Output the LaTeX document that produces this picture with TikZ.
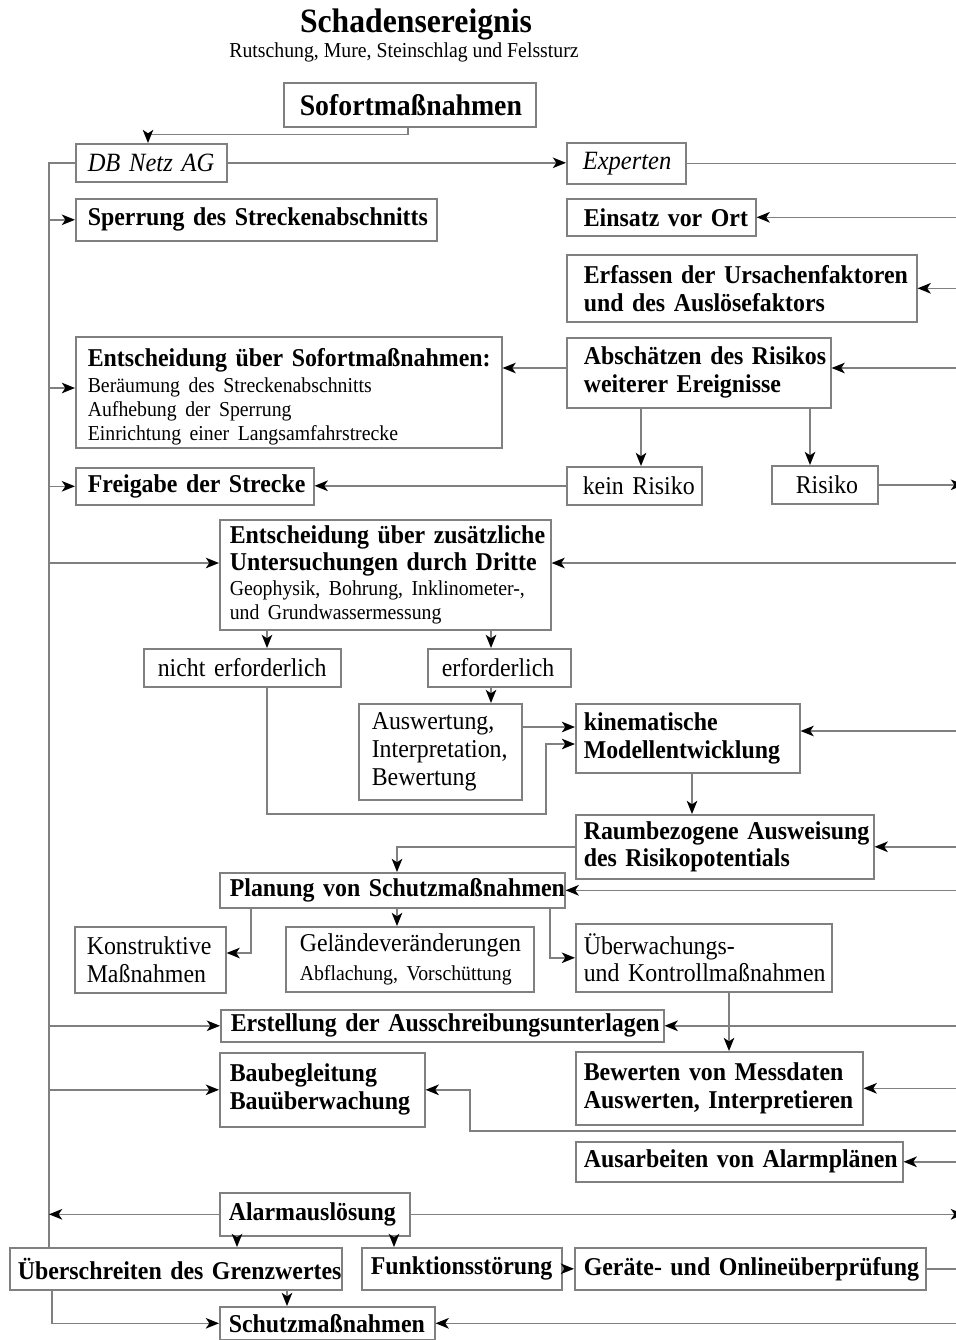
\documentclass[tikz,border=0pt]{standalone}
\usepackage{fontspec}
\setmainfont{Liberation Serif}[FakeStretch=0.93]
\usetikzlibrary{arrows.meta}
\definecolor{lgray}{RGB}{128,128,128}
\newcommand\fmain{\fontsize{14.6}{15.8}\selectfont}
\newcommand\fsmall{\fontsize{12.1}{13.6}\selectfont}

\tikzset{
	conn/.style={draw=lgray, line width=0.9pt},
	conarrow/.style={conn, -{Stealth[length=7.5pt, width=6pt, inset=2pt, color=black]}},
	block/.style n args={3}{conn, anchor=north west, align=left, font=\fmain\bfseries,
		minimum height=#2*0.02cm, text width=(#1-2*#3)*0.02cm, inner xsep=#3*0.02cm, inner ysep=1pt,
		execute at begin node={\rightskip=-2cm plus 1fil}},
	normaltext/.style={font=\fmain},
	italictext/.style={font=\fontsize{15}{17}\selectfont\itshape},
}

\begin{document}
\begin{tikzpicture}[x=0.02cm, y=-0.02cm]
	\useasboundingbox (0,0) rectangle (956,1340);
	\coordinate (redge) at (956,0);
	\coordinate (rout) at (964,0);
	\coordinate (busB) at (49,1247);

	\node[font=\fontsize{19.4}{21}\selectfont\bfseries] (title) at (416,24) {Schadensereignis};
	\node[font=\fsmall] (subtitle) at (404,52) {Rutschung, Mure, Steinschlag und Felssturz};

	\node[block={252}{44}{16}, font=\fontsize{17}{19}\selectfont\bfseries] (sofort) at (283,82) {Sofortmaßnahmen};
	\node[block={151}{38}{12}, italictext] (dbnetz) at (75,143) {DB Netz AG};
	\node[block={119}{41}{16}, italictext] (experten) at (566,142) {Experten};
	\node[block={361}{42}{12}] (sperrung) at (75,198) {Sperrung des Streckenabschnitts};
	\node[block={189}{37}{17}] (einsatz) at (566,198) {Einsatz vor Ort};
	\node[block={350}{67}{17}] (erfassen) at (566,254) {Erfassen der Ursachenfaktoren\\und des Auslösefaktors};
	\node[block={426}{111}{12}] (entsofort) at (75,336) {\rule{0pt}{15.2pt}Entscheidung über Sofortmaßnahmen:\\[1.7pt]\fsmall\mdseries Beräumung des Streckenabschnitts\\Aufhebung der Sperrung\\Einrichtung einer Langsamfahrstrecke\par};
	\node[block={264}{70}{17}] (abschaetzen) at (566,337) {Abschätzen des Risikos\\weiterer Ereignisse};
	\node[block={135}{38}{16}, normaltext] (keinrisiko) at (566,466) {kein Risiko};
	\node[block={106}{38}{24}, normaltext] (risiko) at (771,465) {Risiko};
	\node[block={238}{37}{12}] (freigabe) at (75,467) {Freigabe der Strecke};
	\node[block={331}{110}{10}] (entzusatz) at (219,519) {Entscheidung über zusätzliche\\Untersuchungen durch Dritte\\[0.6pt]\fsmall\mdseries Geophysik, Bohrung, Inklinometer-,\\und Grundwassermessung\par};
	\node[block={197}{38}{14}, normaltext] (nichterf) at (143,648) {nicht erforderlich};
	\node[block={143}{38}{14}, normaltext] (erf) at (427,648) {erforderlich};
	\node[block={163}{96}{13}, normaltext] (auswertung) at (358,703) {Auswertung,\\Interpretation,\\Bewertung};
	\node[block={224}{69}{8}] (kinematik) at (575,703) {kinematische\\Modellentwicklung};
	\node[block={298}{64}{8}] (raum) at (575,814) {Raumbezogene Ausweisung\\des Risikopotentials};
	\node[block={345}{35}{10}] (planung) at (219,872) {Planung von Schutzmaßnahmen};
	\node[block={151}{66}{12}, normaltext] (konstruktiv) at (74,926) {Konstruktive\\Maßnahmen};
	\node[block={248}{65}{14}, normaltext] (gelaende) at (285,926) {Geländeveränderungen\\[2.8pt]\fsmall Abflachung, Vorschüttung\par};
	\node[block={256}{68}{8}, normaltext] (ueberwach) at (575,923) {Überwachungs-\\und Kontrollmaßnahmen};
	\node[block={443}{32}{10}] (erstellung) at (220,1009) {Erstellung der Ausschreibungsunterlagen};
	\node[block={205}{74}{10}] (baubegl) at (219,1052) {Baubegleitung\\Bauüberwachung};
	\node[block={287}{73}{8}] (bewerten) at (575,1051) {Bewerten von Messdaten\\Auswerten, Interpretieren};
	\node[block={327}{40}{8}] (ausarbeiten) at (575,1141) {Ausarbeiten von Alarmplänen};
	\node[block={190}{43}{9}] (alarm) at (219,1192) {Alarmauslösung};
	\node[block={332}{42}{8}] (ueberschr) at (9,1247) {Überschreiten des Grenzwertes};
	\node[block={200}{42}{9}] (funktion) at (361,1247) {Funktionsstörung};
	\node[block={351}{42}{9}] (geraete) at (574,1247) {Geräte- und Onlineüberprüfung};
	\node[block={215}{33}{9}] (schutz) at (219,1306) {Schutzmaßnahmen};

	\draw[conarrow] (sofort.south -| 408,0) -- ++(0,7) -| (dbnetz.north -| 148,0);
	\draw[conarrow] (dbnetz.east) -- (experten.west |- dbnetz.east);
	\draw[conn] (experten.east) -- (experten.east -| redge);
	\draw[conn] (dbnetz.west) -| (busB);
	\draw[conarrow] (sperrung.west -| busB) -- (sperrung.west);
	\draw[conarrow] (busB |- 0,388) -- (entsofort.west |- 0,388);
	\draw[conarrow] (freigabe.west -| busB) -- (freigabe.west);
	\draw[conarrow] (busB |- 0,563) -- (entzusatz.west |- 0,563);
	\draw[conarrow] (erstellung.west -| busB) -- (erstellung.west);
	\draw[conarrow] (baubegl.west -| busB) -- (baubegl.west);
	\draw[conarrow] (alarm.west) -- (alarm.west -| busB);

	\draw[conarrow] (einsatz.east -| redge) -- (einsatz.east);
	\draw[conarrow] (erfassen.east -| redge) -- (erfassen.east);
	\draw[conarrow] (redge |- 0,368) -- (abschaetzen.east |- 0,368);
	\draw[conarrow] (risiko.east) -- (risiko.east -| rout);
	\draw[conarrow] (redge |- 0,563) -- (entzusatz.east |- 0,563);
	\draw[conarrow] (redge |- 0,731) -- (kinematik.east |- 0,731);
	\draw[conarrow] (raum.east -| redge) -- (raum.east);
	\draw[conarrow] (planung.east -| redge) -- (planung.east);
	\draw[conarrow] (erstellung.east -| redge) -- (erstellung.east);
	\draw[conarrow] (bewerten.east -| redge) -- (bewerten.east);
	\draw[conarrow] (redge |- 0,1131) -| (baubegl.east -| 470,0) -- (baubegl.east);
	\draw[conarrow] (ausarbeiten.east -| redge) -- (ausarbeiten.east);
	\draw[conarrow] (alarm.east) -- (alarm.east -| rout);
	\draw[conn] (geraete.east) -- (geraete.east -| redge);
	\draw[conarrow] (schutz.east -| redge) -- (schutz.east);

	\draw[conarrow] (abschaetzen.west |- 0,368) -- (entsofort.east |- 0,368);
	\draw[conarrow] (abschaetzen.south -| 641,0) -- (keinrisiko.north -| 641,0);
	\draw[conarrow] (abschaetzen.south -| 810,0) -- (risiko.north -| 810,0);
	\draw[conarrow] (keinrisiko.west) -- (freigabe.east |- keinrisiko.west);
	\draw[conarrow] (entzusatz.south -| 267,0) -- (nichterf.north -| 267,0);
	\draw[conarrow] (entzusatz.south -| 491,0) -- (erf.north -| 491,0);
	\draw[conarrow] (erf.south -| 491,0) -- (auswertung.north -| 491,0);
	\draw[conarrow] (auswertung.east |- 0,727) -- (kinematik.west |- 0,727);
	\draw[conarrow] (nichterf.south -| 267,0) |- (raum.north -| 546,0) |- (kinematik.west |- 0,744);
	\draw[conarrow] (kinematik.south -| 692,0) -- (raum.north -| 692,0);
	\draw[conarrow] (raum.west) -| (planung.north -| 397,0);
	\draw[conarrow] (planung.south -| 251,0) |- (konstruktiv.east |- 0,953);
	\draw[conarrow] (planung.south -| 397,0) -- (gelaende.north -| 397,0);
	\draw[conarrow] (planung.south -| 550,0) |- (ueberwach.west);
	\draw[conarrow] (ueberwach.south -| 729,0) -- (bewerten.north -| 729,0);
	\draw[conarrow] (alarm.south -| 237,0) -- (ueberschr.north -| 237,0);
	\draw[conarrow] (alarm.south -| 394,0) -- (funktion.north -| 394,0);
	\draw[conarrow] (funktion.east) -- (geraete.west);
	\draw[conarrow] (ueberschr.south -| 287,0) -- (schutz.north -| 287,0);
	\draw[conarrow] (ueberschr.south -| 52,0) |- (schutz.west);
\end{tikzpicture}
\end{document}
